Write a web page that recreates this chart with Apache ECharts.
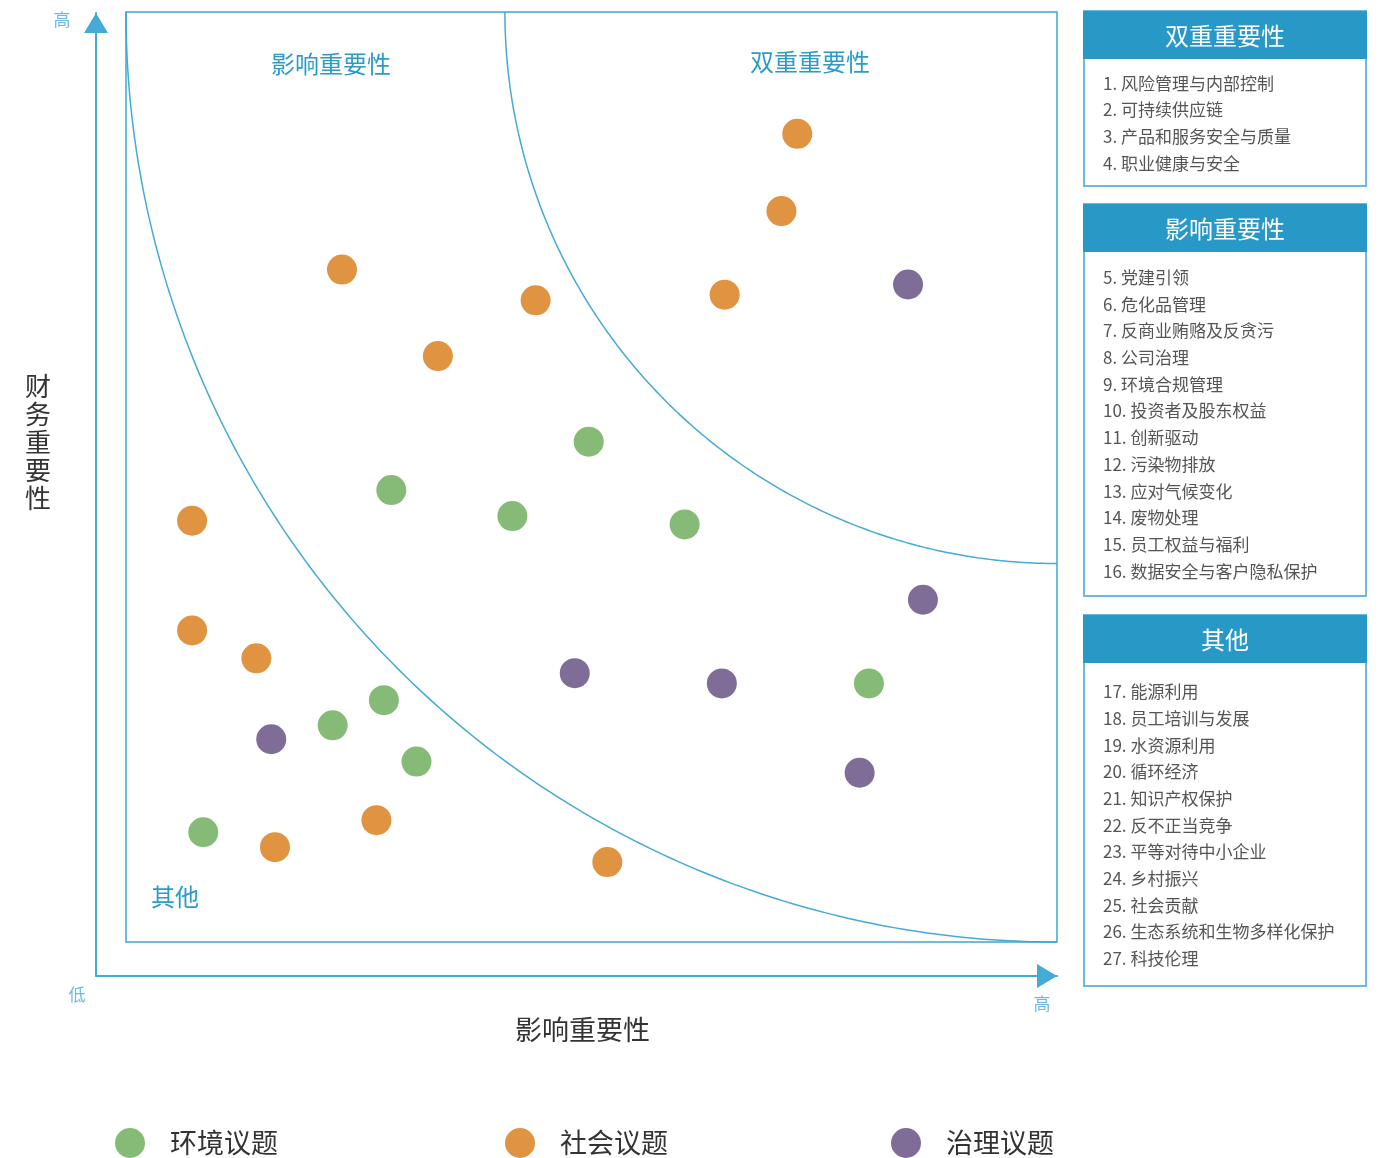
<!DOCTYPE html>
<html><head><meta charset="utf-8">
<script src="https://cdn.jsdelivr.net/npm/echarts@6.0.0/dist/echarts.min.js"></script>
<style>html,body{margin:0;padding:0;background:#fff}#main{width:1382px;height:1158px}</style>
</head><body><div id="main"></div>
<script>
// ---------- data ----------
const seriesNames = ['环境议题', '社会议题', '治理议题'];
// [影响重要性, 财务重要性] on a 0-100 scale
const envPoints = [[49.7, 53.8], [28.5, 48.6], [41.5, 45.8], [60.0, 44.9], [27.7, 26.0], [22.2, 23.3], [31.2, 19.4], [8.3, 11.8], [79.8, 27.8]];
const socPoints = [[72.1, 86.9], [70.4, 78.6], [64.3, 69.6], [23.2, 72.3], [44.0, 69.0], [33.5, 63.0], [7.1, 45.3], [7.1, 33.5], [14.0, 30.5], [26.9, 13.1], [16.0, 10.2], [51.7, 8.6]];
const govPoints = [[84.0, 70.7], [85.6, 36.8], [48.2, 28.9], [64.0, 27.8], [15.6, 21.8], [78.8, 18.2]];
const boundaryRadii = [100, 59.3];
const quadrantLabels = ['影响重要性', '双重重要性', '其他'];
const axisNames = ['影响重要性', '财务重要性'];
const axisEndLabels = ['高', '低', '高'];
const panelTitles = ['双重重要性', '影响重要性', '其他'];
const panelItems1 = ['1. 风险管理与内部控制', '2. 可持续供应链', '3. 产品和服务安全与质量', '4. 职业健康与安全'];
const panelItems2 = ['5. 党建引领', '6. 危化品管理', '7. 反商业贿赂及反贪污', '8. 公司治理', '9. 环境合规管理', '10. 投资者及股东权益', '11. 创新驱动', '12. 污染物排放', '13. 应对气候变化', '14. 废物处理', '15. 员工权益与福利', '16. 数据安全与客户隐私保护'];
const panelItems3 = ['17. 能源利用', '18. 员工培训与发展', '19. 水资源利用', '20. 循环经济', '21. 知识产权保护', '22. 反不正当竞争', '23. 平等对待中小企业', '24. 乡村振兴', '25. 社会贡献', '26. 生态系统和生物多样化保护', '27. 科技伦理'];

// ---------- style / layout ----------
const FONT = '"Noto Sans CJK SC", "Noto Sans", sans-serif';
const colors = ['#85bb76', '#e09340', '#7f6d97'];
const BLUE = '#2899c7';
const LINE = '#45aad6';
const LIGHT = '#6bbbe0';

const panelLayout = [
  { top: 11, bottom: 186, firstY: 83.3 },
  { top: 204, bottom: 596, firstY: 277.5 },
  { top: 615, bottom: 986, firstY: 691.7 }
];
const panelItems = [panelItems1, panelItems2, panelItems3];
const PX = 1083, PW = 284, HEADER_H = 48, ROW = 26.7;

const graphics = [];
panelLayout.forEach((p, i) => {
  graphics.push({ type: 'rect', shape: { x: PX + 1, y: p.top, width: PW - 2, height: p.bottom - p.top }, style: { fill: '#fff', stroke: LIGHT, lineWidth: 2 }, z: 1 });
  graphics.push({ type: 'rect', shape: { x: PX, y: p.top, width: PW, height: HEADER_H }, style: { fill: BLUE }, z: 2 });
  graphics.push({ type: 'text', x: PX + PW / 2, y: p.top + 25, style: { text: panelTitles[i], fill: '#fff', font: '24px ' + FONT, textAlign: 'center', textVerticalAlign: 'middle' }, z: 3 });
  panelItems[i].forEach((t, k) => {
    graphics.push({ type: 'text', x: 1103, y: p.firstY + k * ROW, style: { text: t, fill: '#555', font: '17px ' + FONT, textAlign: 'left', textVerticalAlign: 'middle' }, z: 3 });
  });
});
// quadrant labels
const qPos = [[331, 64], [810, 62], [175, 897]];
quadrantLabels.forEach((t, i) => {
  graphics.push({ type: 'text', x: qPos[i][0], y: qPos[i][1], style: { text: t, fill: '#2d9bc9', font: '24px ' + FONT, textAlign: 'center', textVerticalAlign: 'middle' }, z: 5 });
});
// axis end labels
const ePos = [[62, 20], [77, 995], [1042, 1004]];
axisEndLabels.forEach((t, i) => {
  graphics.push({ type: 'text', x: ePos[i][0], y: ePos[i][1], style: { text: t, fill: LIGHT, font: '17px ' + FONT, textAlign: 'center', textVerticalAlign: 'middle' }, z: 5 });
});
// vertical y-axis title (stacked characters)
axisNames[1].split('').forEach((ch, k) => {
  graphics.push({ type: 'text', x: 38, y: 386 + k * 28, style: { text: ch, fill: '#333', font: '26px ' + FONT, textAlign: 'center', textVerticalAlign: 'middle' }, z: 5 });
});

const hiddenAxis = { axisLine: { show: false }, axisTick: { show: false }, axisLabel: { show: false }, splitLine: { show: false } };

const chart = echarts.init(document.getElementById('main'), null, { renderer: 'canvas' });
chart.setOption({
  animation: false,
  backgroundColor: '#fff',
  textStyle: { fontFamily: FONT },
  grid: [
    { left: 126, top: 12, width: 931, height: 930, show: true, borderColor: '#3ea6d2', borderWidth: 1.5, backgroundColor: 'transparent', z: 2 },
    { left: 96, top: 13, width: 961, height: 963, show: false }
  ],
  xAxis: [
    Object.assign({ type: 'value', gridIndex: 0, min: 0, max: 100, name: axisNames[0], nameLocation: 'middle', nameGap: 74,
      nameTextStyle: { fontSize: 27, color: '#333', fontFamily: FONT, padding: [0, 18, 0, 0] } }, hiddenAxis),
    { type: 'value', gridIndex: 1, min: 0, max: 1, axisTick: { show: false }, axisLabel: { show: false }, splitLine: { show: false },
      axisLine: { show: true, lineStyle: { color: LINE, width: 2 }, symbol: ['none', 'triangle'], symbolSize: [24, 20], symbolOffset: [0, -10] } }
  ],
  yAxis: [
    Object.assign({ type: 'value', gridIndex: 0, min: 0, max: 100 }, hiddenAxis),
    { type: 'value', gridIndex: 1, min: 0, max: 1, axisTick: { show: false }, axisLabel: { show: false }, splitLine: { show: false },
      axisLine: { show: true, lineStyle: { color: LINE, width: 2 }, symbol: ['none', 'triangle'], symbolSize: [24, 20], symbolOffset: [0, -10] } }
  ],
  legend: [0, 1, 2].map(i => ({
    data: [seriesNames[i]], left: [115, 505, 891][i], top: 1128, padding: 0, icon: 'circle', itemWidth: 30, itemHeight: 30,
    textStyle: { fontSize: 27, color: '#333', fontFamily: FONT, padding: [0, 0, 0, 20] }
  })),
  graphic: graphics,
  series: [
    {
      type: 'custom', xAxisIndex: 0, yAxisIndex: 0, silent: true, z: 1,
      data: boundaryRadii.map(r => [100, 100, r]),
      renderItem: function (params, api) {
        const r = api.value(2);
        const pts = [];
        for (let k = 0; k <= 180; k++) {
          const t = k * Math.PI / 360;
          pts.push(api.coord([100 - r * Math.cos(t), 100 - r * Math.sin(t)]));
        }
        return { type: 'polyline', shape: { points: pts }, style: { stroke: LINE, lineWidth: 1.5, fill: null } };
      }
    },
    { name: seriesNames[0], type: 'scatter', xAxisIndex: 0, yAxisIndex: 0, data: envPoints, symbol: 'circle', symbolSize: 30, itemStyle: { color: colors[0], opacity: 1 }, z: 3 },
    { name: seriesNames[1], type: 'scatter', xAxisIndex: 0, yAxisIndex: 0, data: socPoints, symbol: 'circle', symbolSize: 30, itemStyle: { color: colors[1], opacity: 1 }, z: 3 },
    { name: seriesNames[2], type: 'scatter', xAxisIndex: 0, yAxisIndex: 0, data: govPoints, symbol: 'circle', symbolSize: 30, itemStyle: { color: colors[2], opacity: 1 }, z: 3 }
  ]
});
</script></body></html>
